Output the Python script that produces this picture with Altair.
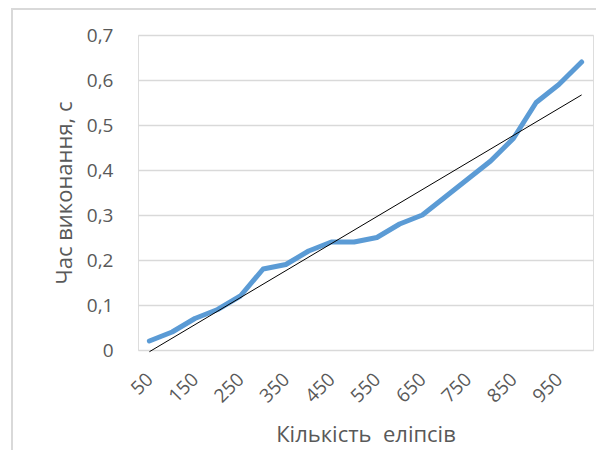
import altair as alt
import pandas as pd

counts = [50, 100, 150, 200, 250, 300, 350, 400, 450, 500,
          550, 600, 650, 700, 750, 800, 850, 900, 950, 1000]
times = [0.02, 0.04, 0.07, 0.09, 0.12, 0.18, 0.19, 0.22, 0.24, 0.24,
         0.25, 0.28, 0.30, 0.34, 0.38, 0.42, 0.47, 0.55, 0.59, 0.64]
x_ticks = [50, 150, 250, 350, 450, 550, 650, 750, 850, 950]
y_ticks = [0, 0.1, 0.2, 0.3, 0.4, 0.5, 0.6, 0.7]

df = pd.DataFrame({"count": counts, "time": times})

FONT = "Open Sans"
GREY = "#595959"

x_enc = alt.X("count:Q",
              scale=alt.Scale(domain=[25, 1025], nice=False, zero=False),
              axis=alt.Axis(values=x_ticks, title="Кількість\u00a0\u00a0еліпсів", grid=False,
                            ticks=False, domain=False, labelAngle=-45,
                            labelAlign="right", labelBaseline="middle",
                            labelPadding=26, labelFont=FONT, labelFontSize=19,
                            labelColor=GREY, titleFont=FONT, titleFontSize=22,
                            titleFontWeight="normal", titleColor=GREY,
                            titlePadding=18))
y_enc = alt.Y("time:Q",
              scale=alt.Scale(domain=[0, 0.7], nice=False),
              axis=alt.Axis(values=y_ticks, title="Час виконання, с",
                            labelExpr="replace(format(datum.value, '.1~f'), '.', ',')",
                            grid=True, gridColor="#D9D9D9", gridWidth=1.5,
                            ticks=False, domain=False, labelPadding=25,
                            labelFont=FONT, labelFontSize=19, labelColor=GREY,
                            titleFont=FONT, titleFontSize=22,
                            titleFontWeight="normal", titleColor=GREY,
                            titlePadding=10))

base = alt.Chart(df)

line = base.mark_line(color="#5B9BD5", strokeWidth=5, strokeCap="round",
                      strokeJoin="round").encode(x=x_enc, y=y_enc)

trend = base.transform_regression("count", "time").mark_line(
    color="black", strokeWidth=1).encode(x="count:Q", y="time:Q")

border_left = base.mark_rule(color="#D9D9D9", strokeWidth=2, clip=False).encode(
    x=alt.value(-126), y=alt.value(-27), y2=alt.value(420))
border_top = base.mark_rule(color="#D9D9D9", strokeWidth=2, clip=False).encode(
    x=alt.value(-126), x2=alt.value(470), y=alt.value(-26))

chart = alt.layer(line, trend, border_left, border_top).properties(
    width=455, height=315,
    autosize=alt.AutoSizeParams(type="none"),
    padding={"left": 130, "top": 27, "right": 3, "bottom": 100},
).configure_view(stroke=None).configure(background="white")

chart.save("out.html", embed_options={"renderer": "svg", "actions": False})
